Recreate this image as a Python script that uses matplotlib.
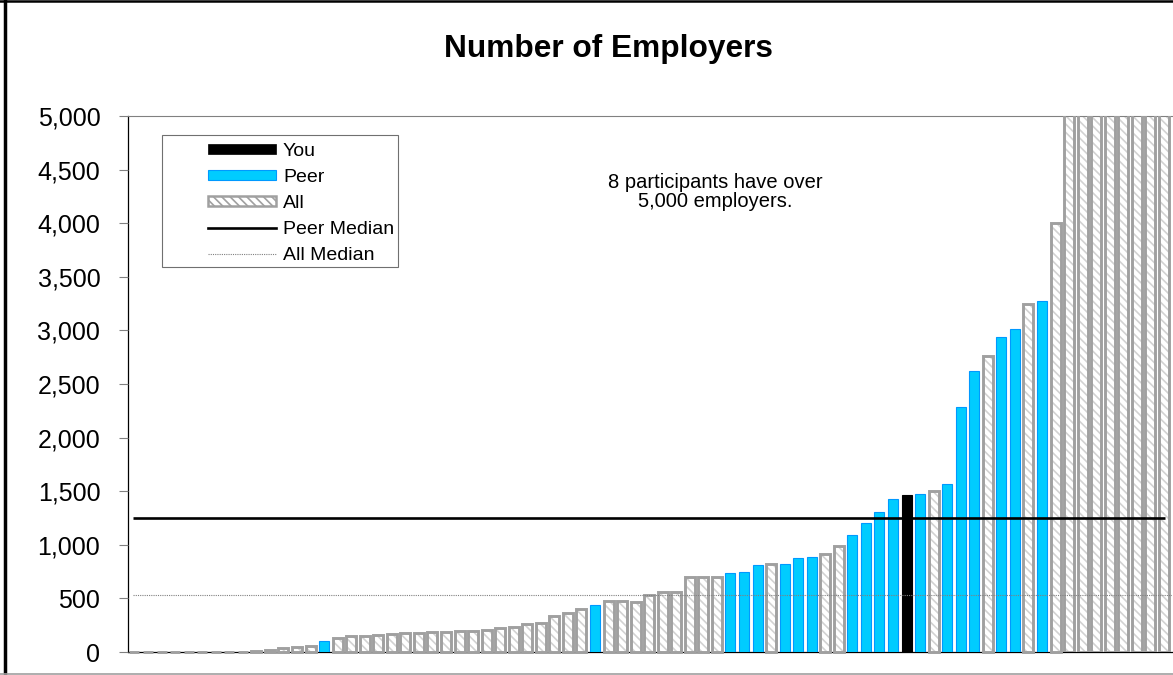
import matplotlib
matplotlib.use("Agg")
import matplotlib.pyplot as plt
from matplotlib.patches import Patch, Rectangle
from matplotlib.lines import Line2D
from matplotlib.ticker import FuncFormatter
import numpy as np

plt.rcParams['font.family'] = ['Liberation Sans', 'DejaVu Sans']
plt.rcParams['hatch.linewidth'] = 1.2

# ---------------- data ----------------
title = "Number of Employers"
note = "8 participants have over\n5,000 employers."

# number of employers per participant, sorted ascending
values = [0, 0, 0, 0, 0, 0, 0, 0, 0,
          12, 15, 35, 45, 60, 100, 130, 150, 150, 160,
          170, 175, 180, 185, 190, 195, 200, 205, 220, 230,
          260, 270, 340, 360, 405, 440, 475, 475, 470, 535,
          560, 560, 700, 700, 700, 740, 750, 815, 820, 825,
          880, 890, 910, 985, 1095, 1200, 1305, 1430, 1460, 1475,
          1500, 1565, 2290, 2620, 2760, 2935, 3010, 3250, 3270, 4000,
          5300, 5900, 6600, 7500, 8700, 10400, 13500, 22000]

# group of each participant: "All", "Peer" or "You"
groups = (["All"] * 14 + ["Peer"] + ["All"] * 19 + ["Peer"] + ["All"] * 9
          + ["Peer", "Peer", "Peer", "All", "Peer", "Peer", "Peer", "All", "All",
             "Peer", "Peer", "Peer", "Peer", "You", "Peer", "All", "Peer", "Peer",
             "Peer", "All", "Peer", "Peer", "All", "Peer", "All"]
          + ["All"] * 8)

peer_median = 1250
all_median = 530

y_ticks = [0, 500, 1000, 1500, 2000, 2500, 3000, 3500, 4000, 4500, 5000]
legend_labels = ["You", "Peer", "All", "Peer Median", "All Median"]

# ---------------- styling ----------------
BLUE = "#00CCFF"
BLUE_EDGE = "#0099FF"
GRAY_EDGE = "#A0A0A0"
HATCH_COL = "#D2D2D2"
HATCH = "\\\\\\\\"

W, H = 1173, 675
fig = plt.figure(figsize=(W / 100, H / 100), dpi=100)
ax = fig.add_axes([127.7 / W, 23 / H, 1044.3 / W, 536 / H])

x = np.arange(len(values))
vals = np.array(values, dtype=float)
grp = np.array(groups)
bw = 0.74
ymax = y_ticks[-1]

m = grp == "All"
ax.bar(x[m], vals[m], width=bw, color="white", edgecolor=HATCH_COL,
       hatch=HATCH, linewidth=0, zorder=2)
inside = m & (vals <= ymax)
ax.bar(x[inside], vals[inside], width=bw, facecolor="none", edgecolor=GRAY_EDGE,
       linewidth=2.1, zorder=3, clip_on=False)
over = m & (vals > ymax)
ax.bar(x[over], vals[over], width=bw, facecolor="none", edgecolor=GRAY_EDGE,
       linewidth=2.1, zorder=3)
m = grp == "Peer"
ax.bar(x[m], vals[m], width=bw, color=BLUE, edgecolor=BLUE_EDGE,
       linewidth=0.8, zorder=3)
m = grp == "You"
ax.bar(x[m], vals[m], width=bw, color="black", edgecolor="black",
       linewidth=0.8, zorder=3)

ax.hlines(peer_median, x[0] - 0.1, x[-1] + 0.1, color="black", linewidth=1.9, zorder=5)
ax.hlines(all_median, x[0] - 0.1, x[-1] + 0.6, color="#808080", linewidth=0.8,
          linestyles=(0, (1, 1)), zorder=5)

ax.set_xlim(-0.5, 76.6)
ax.set_ylim(0, ymax)
ax.set_yticks(y_ticks)
ax.yaxis.set_major_formatter(FuncFormatter(lambda v, p: f"{v:,.0f}"))
ax.set_xticks([])
ax.tick_params(axis="y", length=6.7, width=0.8, color="#808080", pad=13,
               labelsize=18, direction="out")

for s in ["left", "bottom"]:
    ax.spines[s].set_color("black")
    ax.spines[s].set_linewidth(0.9)
    ax.spines[s].set_zorder(1)
ax.spines["top"].set_color("#808080")
ax.spines["top"].set_linewidth(0.8)
ax.spines["right"].set_visible(False)

# legend box and legend
box = Rectangle((0.0326, 0.7192), 0.2262, 0.2454, transform=ax.transAxes,
                facecolor="white", edgecolor="#707070", linewidth=0.8, zorder=6)
ax.add_patch(box)
handles = [
    Patch(facecolor="black", edgecolor="black", linewidth=0.5),
    Patch(facecolor=BLUE, edgecolor=BLUE_EDGE, linewidth=0.8),
    Patch(facecolor="white", edgecolor=GRAY_EDGE, hatch=HATCH, linewidth=1.8),
    Line2D([], [], color="black", linewidth=1.9),
    Line2D([], [], color="#808080", linewidth=0.8, linestyle=(0, (1, 1))),
]
fs_leg = 14
leg = ax.legend(handles, legend_labels, loc="upper left",
                bbox_to_anchor=((208 - 127.7) / 1044.3, 0.9505),
                frameon=False, fontsize=fs_leg, handlelength=68 / (fs_leg * 100 / 72),
                handleheight=0.42, handletextpad=0.36, borderpad=0,
                borderaxespad=0, labelspacing=0.47)
leg.set_zorder(7)

fig.text(608 / W, 1 - 56.7 / H, title, ha="center", va="baseline",
         fontsize=22.8, fontweight="bold")
fig.text(715 / W, 1 - 207.5 / H, note, ha="center", va="baseline",
         fontsize=14.5, linespacing=1.02)

# outer chart border
fig.add_artist(Line2D([4.5 / W, 4.5 / W], [0, 1], color="black", linewidth=2.5,
                      transform=fig.transFigure))
fig.add_artist(Line2D([0, 1], [1 - 1.2 / H, 1 - 1.2 / H], color="black", linewidth=1.8,
                      transform=fig.transFigure))
fig.add_artist(Line2D([0, 1], [1 / H, 1 / H], color="#A0A0A0", linewidth=1.2,
                      transform=fig.transFigure))

fig.savefig("out.png", dpi=100)
